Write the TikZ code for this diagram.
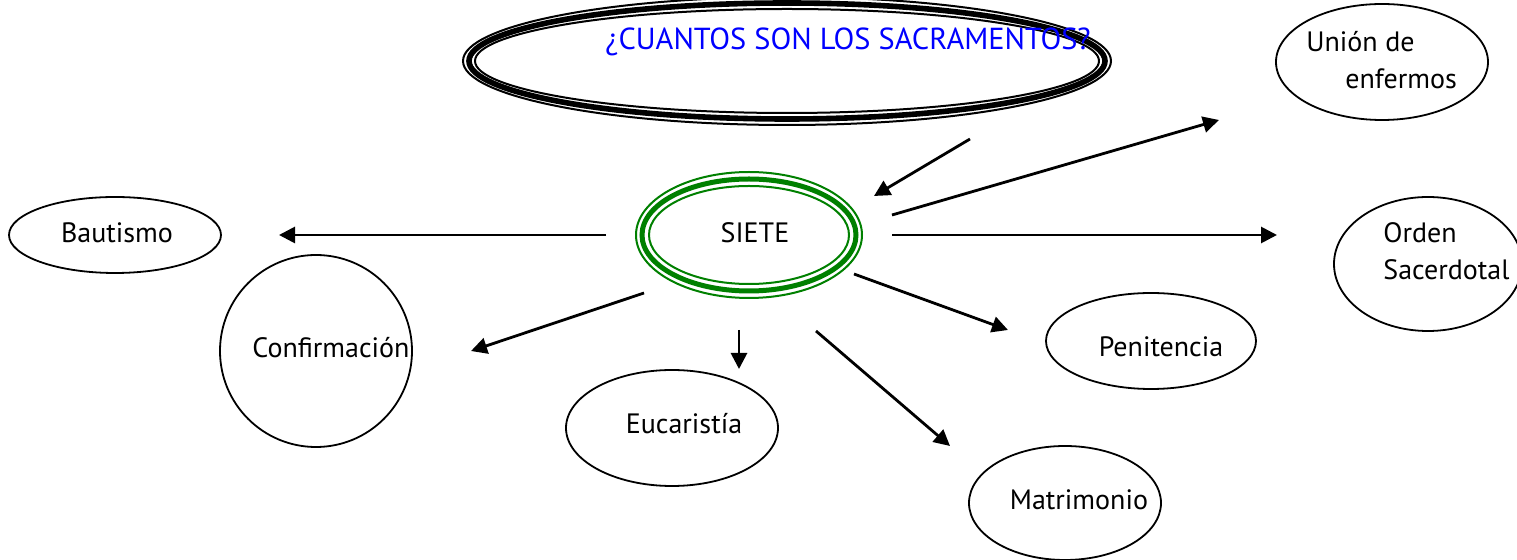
\documentclass[tikz,border=0pt]{standalone}
\usepackage{fontspec}
\setmainfont{PT Sans}
\usetikzlibrary{arrows.meta}
\definecolor{titleblue}{RGB}{0,0,255}
\definecolor{ringgreen}{RGB}{0,128,0}
\tikzset{
	sacr/.style={line width=.9pt},
	lbl/.style={font=\fontsize{14}{18.5}\selectfont, inner sep=0pt},
	arr/.style={line width=1.4pt, -{Triangle[length=8pt,width=8pt]}}
}
\begin{document}
\begin{tikzpicture}[x=.5pt,y=-.5pt]
		\useasboundingbox (0,0) rectangle (1517,560);
		
		% pregunta
		\draw [line width=1pt] (787,61) ellipse [x radius=324, y radius=64];
		\draw [line width=2.8pt] (787,61) ellipse [x radius=318, y radius=58];
		\draw [line width=1pt] (787,61) ellipse [x radius=312, y radius=52];
		\node [lbl, font=\fontsize{15.2}{18.5}\selectfont, text=titleblue] (pregunta) at (848,42) {¿CUANTOS SON LOS SACRAMENTOS?};
		
		% siete
		\draw [ringgreen, line width=1pt] (749,235) ellipse [x radius=113, y radius=63];
		\draw [ringgreen, line width=2.5pt] (749,235) ellipse [x radius=107, y radius=56];
		\draw [ringgreen, line width=1pt] (749,235) ellipse [x radius=100, y radius=49];
		\node [lbl] (siete) at (755,233) {SIETE};
		
		\draw [sacr] (115,235) ellipse [x radius=106, y radius=38]; \node [lbl] (bautismo) at (117,233) {Bautismo};
		\draw [sacr] (316,351) ellipse [x radius=96, y radius=96]; \node [lbl] (confirmacion) at (331,348) {Confirmación};
		\draw [sacr] (672,428) ellipse [x radius=106, y radius=58]; \node [lbl] (eucaristia) at (684,424) {Eucaristía};
		\draw [sacr] (1065,503) ellipse [x radius=96, y radius=57]; \node [lbl] (matrimonio) at (1079,500) {Matrimonio};
		\draw [sacr] (1151,341) ellipse [x radius=105, y radius=48]; \node [lbl] (penitencia) at (1161,347) {Penitencia};
		\draw [sacr] (1428,264) ellipse [x radius=94, y radius=67];
		\node [lbl, anchor=west, align=left] (orden) at (1383,251) {Orden\\Sacerdotal};
		\draw [sacr] (1382,62) ellipse [x radius=106, y radius=58];
		\node [lbl, anchor=west, align=left] (uncion) at (1306,60) {Unión de\\\hspace*{19.5pt}enfermos};
		
		% flechas
		\coordinate (p0) at (970,139); \coordinate (s0) at (874,196);
		\coordinate (s1) at (892,215); \coordinate (u1) at (1219,120);
		\coordinate (s2) at (892,235); \coordinate (o2) at (1277,235);
		\coordinate (s3) at (854,274); \coordinate (p3) at (1008,330);
		\coordinate (s4) at (816,331); \coordinate (m4) at (950,446);
		\coordinate (s5) at (739,330); \coordinate (e5) at (739,369);
		\coordinate (s6) at (644,293); \coordinate (c6) at (471,351);
		\coordinate (s7) at (606,235); \coordinate (b7) at (279,235);
		\draw [arr] (p0) -- (s0);
		\draw [arr] (s1) -- (u1);
		\draw [arr] (s2) -- (o2);
		\draw [arr] (s3) -- (p3);
		\draw [arr] (s4) -- (m4);
		\draw [arr] (s5) -- (e5);
		\draw [arr] (s6) -- (c6);
		\draw [arr] (s7) -- (b7);
\end{tikzpicture}
\end{document}
